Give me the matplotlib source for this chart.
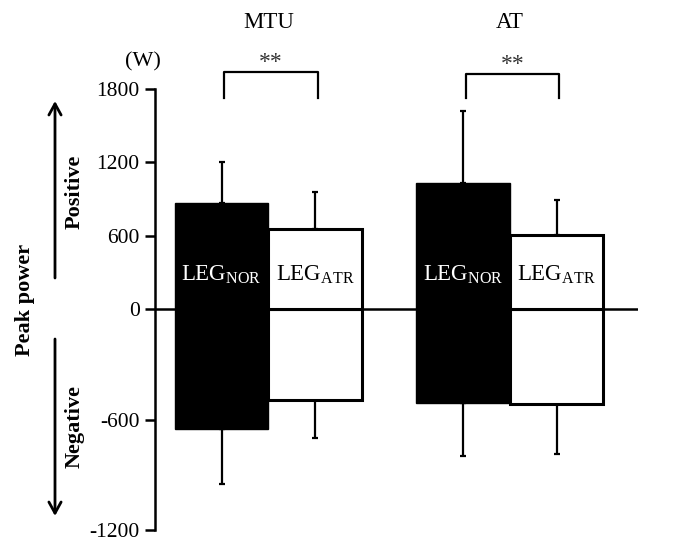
import numpy as np
import matplotlib
matplotlib.use("Agg")
import matplotlib.pyplot as plt

plt.rcParams['font.family'] = ['Liberation Serif', 'DejaVu Serif']
plt.rcParams['mathtext.fontset'] = 'custom'
plt.rcParams['mathtext.rm'] = 'Liberation Serif'

# data (W)
groups = ['MTU', 'AT']
nor_pos = [867, 1029]
nor_pos_sd = [333, 588]
atr_pos = [652, 602]
atr_pos_sd = [301, 292]
nor_neg = [-651, -509]
nor_neg_sd = [301, 287]
atr_neg = [-491, -513]
atr_neg_sd = [211, 272]
yticks = [-1200, -600, 0, 600, 1200, 1800]


# positive and negative halves use different scales in the original
def fwd(y):
    y = np.asarray(y, dtype=float)
    return np.where(y >= 0, y / 1800.0, y / 1200.0)


def inv(v):
    v = np.asarray(v, dtype=float)
    return np.where(v >= 0, v * 1800.0, v * 1200.0)


fig = plt.figure(figsize=(6.99, 5.40), dpi=100)
W, H = 699.0, 540.0
ax = fig.add_axes([155 / W, 10 / H, 483 / W, 441.5 / H])
ax.set_yscale('function', functions=(fwd, inv))

gap = 2.58
centers = np.arange(len(groups)) * gap
xn = centers - 0.5
xa = centers + 0.5

# negative bars first, then positive ones on top
ax.bar(xn, nor_neg, width=1.0, color='black', edgecolor='black', linewidth=1.0, zorder=2)
ax.bar(xa, atr_neg, width=1.0, color='white', edgecolor='black', linewidth=2.2, zorder=2)
ax.bar(xn, nor_pos, width=1.0, color='black', edgecolor='black', linewidth=1.0, zorder=2)
ax.bar(xa, atr_pos, width=1.0, color='white', edgecolor='black', linewidth=2.2, zorder=2)

z = np.zeros(len(groups))
ekw = dict(fmt='none', ecolor='black', elinewidth=1.6, capsize=2.5, capthick=1.6, zorder=1)
ax.errorbar(xn, nor_pos, yerr=[z, nor_pos_sd], **ekw)
ax.errorbar(xa, atr_pos, yerr=[z, atr_pos_sd], **ekw)
ax.errorbar(xn, nor_neg, yerr=[nor_neg_sd, z], **ekw)
ax.errorbar(xa, atr_neg, yerr=[atr_neg_sd, z], **ekw)

ax.axhline(0, color='black', linewidth=1.8, zorder=3)

ax.set_xlim(-1.212, 3.95)
ax.set_ylim(-1200, 1800)
ax.set_yticks(yticks)
ax.set_yticklabels([str(t) for t in yticks])
ax.set_xticks([])
for s in ['top', 'right', 'bottom']:
    ax.spines[s].set_visible(False)
ax.spines['left'].set_linewidth(1.8)
ax.tick_params(axis='y', direction='out', length=7, width=1.8, labelsize=15.5, pad=4)

# bar labels
lab_y = 285
for i in range(len(groups)):
    ax.text(xn[i], lab_y, r'LEG$_{\mathrm{NOR}}$', color='white', fontsize=16.5,
            ha='center', va='center', zorder=4)
    ax.text(xa[i], lab_y, r'LEG$_{\mathrm{ATR}}$', color='black', fontsize=16.5,
            ha='center', va='center', zorder=4)

# group titles and significance brackets
for i, g in enumerate(groups):
    ax.text(centers[i], 2340, g, fontsize=16.5, ha='center', va='center', clip_on=False)
    top = 1936 if i == 0 else 1918
    ax.plot([xn[i] + 0.03, xn[i] + 0.03, xa[i] + 0.03, xa[i] + 0.03],
            [1724, top, top, 1724], color='black', linewidth=1.6, clip_on=False)
    ax.text(centers[i] + 0.03, top + 80, '**', fontsize=17, color='#333333',
            ha='center', va='center', clip_on=False)

ax.text(-1.34, 2018, '(W)', fontsize=16, ha='center', va='center', clip_on=False)

# side labels and arrows
fig.text(25 / W, 1 - 300 / H, 'Peak power', rotation=90, fontsize=16, fontweight='bold',
         ha='center', va='center')
fig.text(75 / W, 1 - 192 / H, 'Positive', rotation=90, fontsize=16, fontweight='bold',
         ha='center', va='center')
fig.text(75 / W, 1 - 427 / H, 'Negative', rotation=90, fontsize=16, fontweight='bold',
         ha='center', va='center')
akw = dict(arrowstyle='->,head_length=0.4,head_width=0.22', color='black', lw=2,
           mutation_scale=20, shrinkA=0, shrinkB=0)
fig.add_artist(matplotlib.patches.FancyArrowPatch((55 / W, 1 - 278 / H), (55 / W, 1 - 101 / H),
                                                  transform=fig.transFigure, **akw))
fig.add_artist(matplotlib.patches.FancyArrowPatch((55 / W, 1 - 339 / H), (55 / W, 1 - 516 / H),
                                                  transform=fig.transFigure, **akw))

fig.savefig('out.png', dpi=100)
